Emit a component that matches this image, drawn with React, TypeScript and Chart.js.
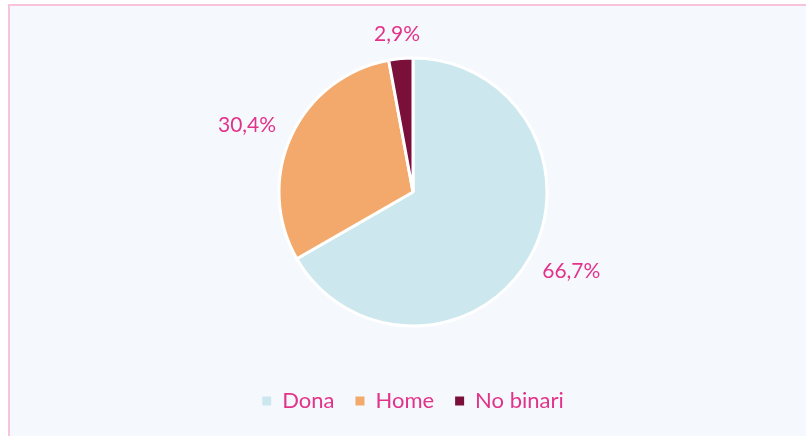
import React, { useEffect, useRef } from "react";
import { Chart, registerables } from "chart.js";

Chart.register(...registerables);

const categories = ["Dona", "Home", "No binari"];
const values = [66.7, 30.4, 2.9];
const valueLabels = ["66,7%", "30,4%", "2,9%"];
const colors = ["#cce8ee", "#f2a96b", "#7a0f3a"];

const TEXT = "#e2338b";
const FONT = "Lato, 'Open Sans', sans-serif";

const outsideLabels = {
  id: "outsideLabels",
  afterDatasetsDraw(chart: any) {
    const ctx = chart.ctx;
    const meta = chart.getDatasetMeta(0);
    ctx.save();
    ctx.font = `21px ${FONT}`;
    ctx.fillStyle = TEXT;
    ctx.textAlign = "center";
    ctx.textBaseline = "middle";
    meta.data.forEach((arc: any, i: number) => {
      const { x, y, startAngle, endAngle, outerRadius } = arc.getProps(
        ["x", "y", "startAngle", "endAngle", "outerRadius"],
        true
      );
      const a = (startAngle + endAngle) / 2;
      const c = Math.cos(a);
      const s = Math.sin(a);
      const r = outerRadius + 14;
      const w = ctx.measureText(valueLabels[i]).width;
      const h = 20;
      ctx.fillText(valueLabels[i], x + c * r + c * w * 0.6, y + s * r + (s * h) / 2);
    });
    ctx.restore();
  },
};

export default function App() {
  const ref = useRef<HTMLCanvasElement | null>(null);

  useEffect(() => {
    if (!ref.current) return;
    const chart = new Chart(ref.current, {
      type: "pie",
      data: {
        labels: categories,
        datasets: [
          {
            data: values,
            backgroundColor: colors,
            borderColor: "#ffffff",
            borderWidth: 3,
          },
        ],
      },
      options: {
        animation: false,
        responsive: false,
        devicePixelRatio: 1,
        radius: 134,
        layout: { padding: { top: 15, bottom: 14, left: 20, right: 0 } },
        plugins: {
          tooltip: { enabled: false },
          legend: {
            position: "bottom",
            labels: {
              boxWidth: 9,
              boxHeight: 9,
              padding: 21,
              color: TEXT,
              font: { family: FONT, size: 22 },
              generateLabels: (ch: any) => {
                const items = (Chart as any).overrides.pie.plugins.legend.labels.generateLabels(ch);
                return items.map((it: any) => ({
                  ...it,
                  lineWidth: 0,
                  strokeStyle: "rgba(0,0,0,0)",
                  fontColor: TEXT,
                }));
              },
            },
          },
        },
      } as any,
      plugins: [outsideLabels],
    });
    return () => chart.destroy();
  }, []);

  return (
    <div style={{ position: "absolute", left: 0, top: 0, width: 806, height: 436, overflow: "hidden" }}>
      <div
        style={{
          position: "absolute",
          left: 8,
          top: 4,
          width: 798,
          height: 432,
          boxSizing: "border-box",
          borderTop: "2px solid #f9c3dd",
          borderLeft: "2px solid #f9c3dd",
          background: "#f5f9fd",
        }}
      />
      <canvas
        ref={ref}
        width={806}
        height={436}
        style={{ position: "absolute", left: 0, top: 0, width: 806, height: 436 }}
      />
    </div>
  );
}
